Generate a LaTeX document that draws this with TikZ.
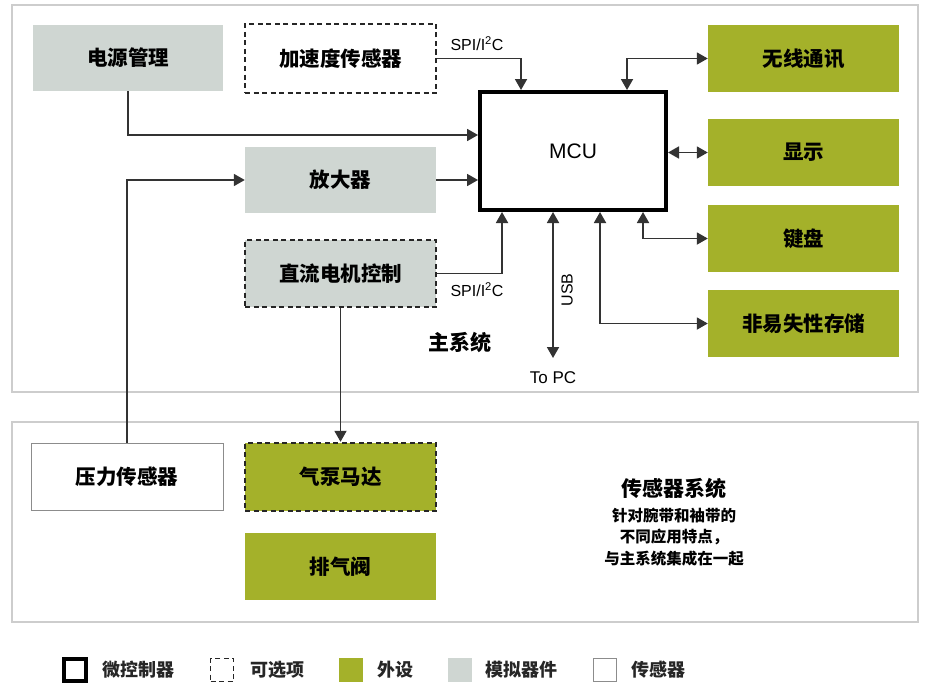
\documentclass[tikz,border=0pt]{standalone}
\usepackage{fontspec}
\setmainfont{Noto Sans CJK SC}
\setsansfont{Noto Sans CJK SC}
\newfontfamily\lat{Liberation Sans}
\usetikzlibrary{arrows.meta}
\definecolor{grn}{RGB}{164,177,42}
\definecolor{gry}{RGB}{207,214,210}
\definecolor{frm}{RGB}{205,205,205}
\begin{document}
\begin{tikzpicture}[x=1pt,y=1pt,
  blk/.style={draw=none,rectangle,minimum width=191pt,minimum height=67pt,inner sep=0pt,font=\fontsize{20.5}{24}\selectfont\bfseries},
  gbox/.style={blk,fill=gry},
  pbox/.style={blk,fill=grn},
  opt/.style={draw=black!85,line width=2.4pt,dash pattern=on 5pt off 3.5pt},
  tip/.tip={Triangle[length=11pt,width=12pt]},
  arr/.style={-tip,line width=1.8pt,draw=black!80},
  darr/.style={tip-tip,line width=1.8pt,draw=black!80},
  lbl/.style={font=\lat\fontsize{16}{18}\selectfont},
  leg/.style={font=\fontsize{18}{20}\selectfont\bfseries,text=black!85}]
\useasboundingbox (0,0) rectangle (925,-685);
\fill[white] (0,0) rectangle (925,-685);
% frames
\draw[frm,line width=1.5pt] (12,-5) rectangle (918,-392);
\draw[frm,line width=1.5pt] (12,-422) rectangle (918,-622);
% nodes
\node[gbox,minimum width=190pt,minimum height=66pt] (pm) at (128,-58) {电源管理};
\node[blk,opt,minimum height=69pt] (acc) at (340.5,-58.5) {加速度传感器};
\node[gbox,minimum height=66pt] (amp) at (340.5,-180) {放大器};
\node[gbox,opt] (dc) at (340.5,-273.5) {直流电机控制};
\node[draw=black,line width=4pt,rectangle,minimum width=186pt,minimum height=118pt,inner sep=0pt,font=\lat\fontsize{21}{24}\selectfont] (mcu) at (573,-151) {MCU};
\node[pbox] (wl) at (803.5,-58.5) {无线通讯};
\node[pbox] (disp) at (803.5,-152.5) {显示};
\node[pbox] (kb) at (803.5,-238.5) {键盘};
\node[pbox] (nvm) at (803.5,-323.5) {非易失性存储};
\node[blk,draw=black!45,line width=1pt,fill=white,minimum width=192pt] (ps) at (127,-476.5) {压力传感器};
\node[pbox,opt,minimum height=68pt] (pump) at (340.5,-477) {气泵马达};
\node[pbox] (valve) at (340.5,-566.5) {排气阀};
\coordinate (topc) at (553,-358);
% connectors
\draw[arr] (pm.south) |- ([yshift=16pt]mcu.west);
\draw[arr] (amp.east) -- (amp.east -| mcu.west);
\draw[arr] (ps.north) |- (amp.west);
\draw[arr] (acc.east) -| ([xshift=-52pt]mcu.north);
\draw[arr] (dc.east) -| ([xshift=-71pt]mcu.south);
\draw[darr] ([xshift=-20pt]mcu.south) -- (topc);
\draw[darr] ([xshift=27pt]mcu.south) |- (nvm.west);
\draw[darr] ([xshift=70pt]mcu.south) |- (kb.west);
\draw[darr] (mcu.east |- disp.west) -- (disp.west);
\draw[darr] ([xshift=54pt]mcu.north) |- (wl.west);
\draw[arr] (dc.south) -- (pump.north);
% labels
\node[lbl] (spi1) at (477,-44) {SPI/I\textsuperscript{2}C};
\node[lbl] (spi2) at (477,-290) {SPI/I\textsuperscript{2}C};
\node[lbl,rotate=90] (usb) at (567,-290) {USB};
\node[lbl,font=\lat\fontsize{17}{19}\selectfont] (tpc) at (553,-378) {To PC};
\node[font=\fontsize{21}{24}\selectfont\bfseries] (main) at (460,-342) {主系统};
\node[font=\fontsize{21}{24}\selectfont\bfseries] (sst) at (674,-488) {传感器系统};
\node[font=\fontsize{15.5}{21.5}\selectfont\bfseries,align=center,anchor=north] (ssd) at (674,-504) {针对腕带和袖带的\\不同应用特点，\\与主系统集成在一起};
% legend
\node[draw=black,line width=3.5pt,minimum size=22pt,inner sep=0pt] (l1) at (75,-670) {};
\node[leg] (t1) at (138,-670) {微控制器};
\node[opt,line width=1.8pt,minimum size=23pt,inner sep=0pt] (l2) at (222,-670) {};
\node[leg] (t2) at (277,-670) {可选项};
\node[fill=grn,minimum size=24pt,inner sep=0pt] (l3) at (351,-670) {};
\node[leg] (t3) at (395,-670) {外设};
\node[fill=gry,minimum size=24pt,inner sep=0pt] (l4) at (460,-670) {};
\node[leg] (t4) at (521,-670) {模拟器件};
\node[draw=black!45,line width=1pt,minimum size=23pt,inner sep=0pt] (l5) at (605,-670) {};
\node[leg] (t5) at (658,-670) {传感器};
\end{tikzpicture}
\end{document}
